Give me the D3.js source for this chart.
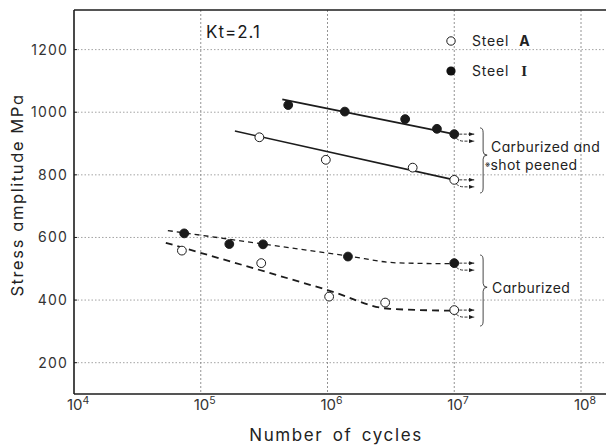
<!DOCTYPE html>
<html>
<head>
<meta charset="utf-8">
<script src="https://cdn.jsdelivr.net/npm/d3@7"></script>
<style>
  html, body { margin: 0; padding: 0; background: #fff; }
  svg { display: block; font-family: Inter, "DejaVu Sans", sans-serif; font-feature-settings: "cv11" 1; }
</style>
</head>
<body>
<svg id="chart" width="606" height="447"></svg>
<script>
// Fatigue test results, notched specimens (Kt = 2.1)
const yTicks = [200, 400, 600, 800, 1000, 1200];
const xTickExponents = [4, 5, 6, 7, 8];

// Carburized and shot peened
const steelI_csp_N = [4.9e5, 1.37e6, 4.1e6, 7.3e6, 1e7];
const steelI_csp_S = [1023, 1002, 978, 947, 930];
const steelA_csp_N = [2.9e5, 9.7e5, 4.7e6, 1e7];
const steelA_csp_S = [920, 848, 823, 784];

// Carburized
const steelI_carb_N = [7.4e4, 1.68e5, 3.1e5, 1.45e6, 1e7];
const steelI_carb_S = [613, 579, 578, 539, 518];
const steelA_carb_N = [7.1e4, 3.0e5, 1.03e6, 2.85e6, 1e7];
const steelA_carb_S = [558, 518, 411, 392, 368];

// S-N curves drawn through the results
const fitI_csp_N = [4.4e5, 1e7];
const fitI_csp_S = [1041, 930];
const fitA_csp_N = [1.86e5, 1e7];
const fitA_csp_S = [940, 784];
const fitI_carb_N = [5.5e4, 1.45e6, 3.5e6, 1e7];
const fitI_carb_S = [622, 541, 519, 516];
const fitA_carb_N = [5.3e4, 1.0e6, 3.1e6, 1e7];
const fitA_carb_S = [583, 432, 372, 366];

const svg = d3.select("#chart");
const plotLeft = 74, plotRight = 606, plotBottom = 394, plotTop = 10;

const x = d3.scaleLog().domain([1e4, 1e8]).range([plotLeft, 581]);
const y = d3.scaleLinear().domain([100, 1200]).range([plotBottom, 49.6]);

const ink = "#1c1c1c";
const grid = svg.append("g");

// dotted grid
grid.append("g").selectAll("line").data(yTicks).join("line")
  .attr("x1", plotLeft).attr("x2", plotRight)
  .attr("y1", d => y(d)).attr("y2", d => y(d))
  .attr("stroke", "#999").attr("stroke-width", 0.9)
  .attr("stroke-dasharray", "1.5,2");
grid.append("g").selectAll("line").data(xTickExponents.slice(1)).join("line")
  .attr("x1", d => x(Math.pow(10, d))).attr("x2", d => x(Math.pow(10, d)))
  .attr("y1", plotTop).attr("y2", plotBottom)
  .attr("stroke", "#888").attr("stroke-width", 0.9)
  .attr("stroke-dasharray", "2,2");

// frame
svg.append("line").attr("x1", plotLeft).attr("x2", plotLeft).attr("y1", plotTop).attr("y2", plotBottom)
  .attr("stroke", ink).attr("stroke-width", 1.6);
svg.append("line").attr("x1", plotLeft).attr("x2", plotRight).attr("y1", plotBottom).attr("y2", plotBottom)
  .attr("stroke", ink).attr("stroke-width", 1.6);
svg.append("line").attr("x1", plotLeft).attr("x2", plotRight).attr("y1", plotTop).attr("y2", plotTop)
  .attr("stroke", ink).attr("stroke-width", 1.4);

// y axis labels
svg.append("g").selectAll("text").data(yTicks).join("text")
  .attr("x", 68).attr("y", d => y(d)).attr("dy", "0.36em")
  .attr("text-anchor", "end").attr("font-size", 14).attr("letter-spacing", 1.2)
  .attr("fill", "#333").text(d => d);
svg.append("g").selectAll("line").data(yTicks).join("line")
  .attr("x1", plotLeft).attr("x2", plotLeft + 3).attr("y1", d => y(d)).attr("y2", d => y(d))
  .attr("stroke", ink).attr("stroke-width", 1);

// x axis labels: powers of ten
const xl = svg.append("g").selectAll("text").data(xTickExponents).join("text")
  .attr("x", d => x(Math.pow(10, d)) - 7).attr("y", 410)
  .attr("font-size", 15).attr("fill", "#333");
xl.append("tspan").text("10");
xl.append("tspan").attr("dy", -6).attr("font-size", 10.5).text(d => d);

// axis titles
svg.append("text").attr("transform", "translate(23,195) rotate(-90)")
  .attr("text-anchor", "middle").attr("font-size", 16.5).attr("letter-spacing", 1.6)
  .attr("fill", "#222").text("Stress amplitude MPa");
svg.append("text").attr("x", 336).attr("y", 441)
  .attr("text-anchor", "middle").attr("font-size", 17).attr("letter-spacing", 1.6)
  .attr("word-spacing", 3).attr("fill", "#222").text("Number of cycles");

// curves
const zip = (N, S) => N.map((n, i) => [n, S[i]]);
const line = d3.line().x(d => x(d[0])).y(d => y(d[1])).curve(d3.curveMonotoneX);
const curves = [
  { pts: zip(fitI_csp_N, fitI_csp_S), dash: null, w: 1.6 },
  { pts: zip(fitA_csp_N, fitA_csp_S), dash: null, w: 1.6 },
  { pts: zip(fitI_carb_N, fitI_carb_S), dash: "5,4", w: 1.3 },
  { pts: zip(fitA_carb_N, fitA_carb_S), dash: "7,5", w: 1.8 }
];
svg.append("g").selectAll("path").data(curves).join("path")
  .attr("d", d => line(d.pts)).attr("fill", "none")
  .attr("stroke", ink).attr("stroke-width", d => d.w)
  .attr("stroke-dasharray", d => d.dash);

// run-out arrows at 10^7 cycles
svg.append("defs").append("marker").attr("id", "ah")
  .attr("viewBox", "0 0 8 6").attr("refX", 8).attr("refY", 3)
  .attr("markerWidth", 6).attr("markerHeight", 4.5).attr("orient", "auto")
  .append("path").attr("d", "M0,0 L8,3 L0,6 Z").attr("fill", ink);
const runouts = [
  [steelI_csp_N[4], steelI_csp_S[4]], [steelA_csp_N[3], steelA_csp_S[3]],
  [steelI_carb_N[4], steelI_carb_S[4]], [steelA_carb_N[4], steelA_carb_S[4]]
];
const ra = svg.append("g");
runouts.forEach(([n, s]) => {
  const cx = x(n), cy = y(s);
  ra.append("path").attr("d", `M${cx + 5},${cy} L${cx + 20},${cy}`)
    .attr("stroke", ink).attr("stroke-width", 0.9).attr("stroke-dasharray", "3,1.5")
    .attr("fill", "none").attr("marker-end", "url(#ah)");
  ra.append("path").attr("d", `M${cx + 2},${cy + 4} Q${cx + 5},${cy + 7} ${cx + 9},${cy + 7} L${cx + 20},${cy + 7}`)
    .attr("stroke", ink).attr("stroke-width", 0.9).attr("stroke-dasharray", "3,1.5")
    .attr("fill", "none").attr("marker-end", "url(#ah)");
});

// data points
const pts = svg.append("g");
const drawPts = (N, S, filled) => pts.append("g").selectAll("circle").data(zip(N, S)).join("circle")
  .attr("cx", d => x(d[0])).attr("cy", d => y(d[1])).attr("r", 4.4)
  .attr("fill", filled ? "#1a1a1a" : "#fff").attr("stroke", ink).attr("stroke-width", 1);
drawPts(steelI_csp_N, steelI_csp_S, true);
drawPts(steelA_csp_N, steelA_csp_S, false);
drawPts(steelI_carb_N, steelI_carb_S, true);
drawPts(steelA_carb_N, steelA_carb_S, false);

// braces grouping the two treatments
function brace(x0, y1, y2, ym) {
  const a = x0 + 3, t = x0 + 7;
  return `M${x0},${y1} Q${a},${y1} ${a},${y1 + 5} L${a},${ym - 4} Q${a},${ym} ${t},${ym}` +
         ` Q${a},${ym} ${a},${ym + 4} L${a},${y2 - 5} Q${a},${y2} ${x0},${y2}`;
}
const bx = x(1.6e7);
svg.append("path").attr("d", brace(bx, y(950), y(742), y(863)))
  .attr("fill", "none").attr("stroke", "#333").attr("stroke-width", 0.9);
svg.append("path").attr("d", brace(bx, y(544), y(317), y(441)))
  .attr("fill", "none").attr("stroke", "#333").attr("stroke-width", 0.9);

svg.append("text").attr("x", 491).attr("y", 151.5).attr("font-size", 14)
  .attr("letter-spacing", 0.4).attr("fill", "#222").text("Carburized and");
const sp = svg.append("text").attr("x", 485).attr("y", 170).attr("font-size", 14)
  .attr("letter-spacing", 0.4).attr("fill", "#222");
sp.append("tspan").attr("font-size", 8).attr("dy", -3).text("※");
sp.append("tspan").attr("dy", 3).text("shot peened");
svg.append("text").attr("x", 492).attr("y", 293).attr("font-size", 14)
  .attr("letter-spacing", 0.4).attr("fill", "#222").text("Carburized");

// legend
svg.append("circle").attr("cx", 451).attr("cy", 41).attr("r", 4.2)
  .attr("fill", "#fff").attr("stroke", ink).attr("stroke-width", 1);
svg.append("circle").attr("cx", 451).attr("cy", 71).attr("r", 4.6).attr("fill", "#111");
const la = svg.append("text").attr("x", 472).attr("y", 46).attr("font-size", 14)
  .attr("letter-spacing", 0.8).attr("fill", "#222");
la.append("tspan").text("Steel");
la.append("tspan").attr("dx", 10).attr("font-weight", 700).text("A");
const li = svg.append("text").attr("x", 472).attr("y", 76).attr("font-size", 14)
  .attr("letter-spacing", 0.8).attr("fill", "#222");
li.append("tspan").text("Steel");
li.append("tspan").attr("dx", 12).attr("font-weight", 700)
  .attr("font-family", "'Liberation Serif', 'DejaVu Serif', serif").attr("font-size", 15).text("I");

// stress concentration factor
svg.append("text").attr("x", 206).attr("y", 37.5).attr("font-size", 17)
  .attr("letter-spacing", 1).attr("fill", "#1a1a1a").text("Kt=2.1");
</script>
</body>
</html>
